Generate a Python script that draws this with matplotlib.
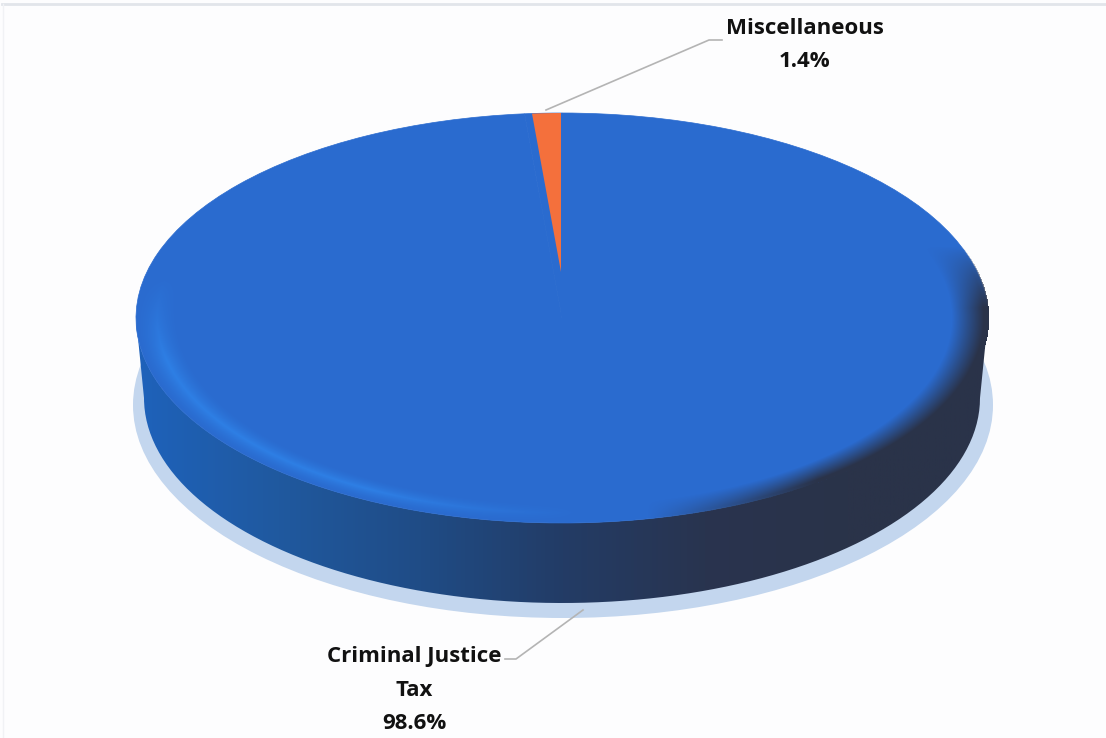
import numpy as np
import matplotlib
matplotlib.use("Agg")
import matplotlib.pyplot as plt
from matplotlib.colors import LinearSegmentedColormap, to_rgb
from matplotlib.patches import Ellipse, PathPatch
from matplotlib.path import Path

# data
names = ["Miscellaneous", "Criminal Justice\nTax"]
shares = [1.4, 98.6]
colors = ["#f4703c", "#2a6bcf"]

W, H = 1106, 738
plt.rcParams["font.family"] = ["Open Sans", "DejaVu Sans"]

fig = plt.figure(figsize=(W / 100, H / 100), dpi=100, facecolor="#fdfdfe")


def pixel_axes(zorder):
    """axes over the whole figure, coordinates are image pixels"""
    a = fig.add_axes([0, 0, 1, 1], zorder=zorder)
    a.set_xlim(0, W)
    a.set_ylim(H, 0)
    a.axis("off")
    return a


def pie_axes(cx, cy, rx, ry, zorder):
    """axes where the unit pie lands on an ellipse in pixels"""
    a = fig.add_axes([(cx - rx) / W, 1 - (cy + ry) / H, 2 * rx / W, 2 * ry / H], zorder=zorder)
    return a


def finish_pie(a):
    a.set_aspect("auto")
    a.set_xlim(-1, 1)
    a.set_ylim(-1, 1)
    a.patch.set_alpha(0)


# ellipse of the top and the bottom, in pixels
top_c = (562, 318)
top_r = (426, 205)
low_c = (562, 398)
low_r = (418, 205)

back = pixel_axes(1)
back.plot([2, W], [4, 4], color="#e2e5ea", lw=2)
back.plot([3, 3], [4, H], color="#f1f2f5", lw=1)

# shadow under the pie
back.add_patch(Ellipse((563, 405), 860, 426, fc="#c3d6ee", ec="none"))

# side of the pie, gradient from left to right
t = np.linspace(np.pi, 0, 200)
upper = np.column_stack([top_c[0] + top_r[0] * np.cos(t), top_c[1] + top_r[1] * np.sin(t)])
lower = np.column_stack([low_c[0] + low_r[0] * np.cos(t), low_c[1] + low_r[1] * np.sin(t)])
side_path = Path(np.vstack([upper, lower[::-1], upper[:1]]))
side_patch = PathPatch(side_path, fc="none", ec="none")
back.add_patch(side_patch)
side_cmap = LinearSegmentedColormap.from_list(
    "side", ["#1e62bb", "#20599f", "#1f4c86", "#233c66", "#29344f", "#2a3349", "#2a3349"], N=1024
)
grad = np.linspace(0, 1, 1024).reshape(1, -1)
side_img = back.imshow(grad, cmap=side_cmap, extent=(136, 990, 610, 310), aspect="auto", zorder=2)
side_img.set_clip_path(side_patch)
back.set_xlim(0, W)
back.set_ylim(H, 0)

# top of the pie, all one colour here, the small slice goes on top later
ax = pie_axes(top_c[0], top_c[1], top_r[0], top_r[1], 2)
ax.pie(shares, colors=[colors[1], colors[1]], startangle=90, radius=1,
       wedgeprops={"edgecolor": colors[1], "linewidth": 0.5})
finish_pie(ax)

# bevel on the rim, light on the left and dark on the right
bevel_ax = pixel_axes(3)
xx, yy = np.meshgrid(np.arange(W) + 0.5, np.arange(H) + 0.5)
u = (xx - top_c[0]) / top_r[0]
v = (yy - top_c[1]) / top_r[1]
rho = np.sqrt(u ** 2 + v ** 2)
band = np.clip(1 - np.abs(rho - 0.95) / 0.05, 0, 1) ** 1.5
light = band * np.clip((0.05 - u) / 0.5, 0, 1) * np.clip((v + 0.2) / 0.4, 0, 1)
dark = np.clip((rho - 0.915) / 0.075, 0, 1) * np.clip((u - 0.2) / 0.4, 0, 1) * np.clip((v + 0.35) / 0.3, 0, 1)
rgba = np.zeros((H, W, 4))
light_c = np.array(to_rgb("#2f84ea"))
dark_c = np.array(to_rgb("#2a3349"))
mix = dark / np.maximum(dark + light, 1e-6)
rgba[..., :3] = light_c * (1 - mix[..., None]) + dark_c * mix[..., None]
# a bit past the rim, so the edge line of the pie gets covered too
rgba[..., 3] = np.clip(light * 0.8 + dark, 0, 1) * (rho <= 1.003)
bevel_ax.imshow(rgba, extent=(0, W, H, 0), aspect="auto")
bevel_ax.set_xlim(0, W)
bevel_ax.set_ylim(H, 0)

# small slice, its point sits above the middle of the top
ax2 = pie_axes(561, 272, 330, 159, 4)
small, _ = ax2.pie(shares, colors=colors, startangle=90, radius=1)
small[1].set_visible(False)
finish_pie(ax2)

# leader lines and labels
front = pixel_axes(5)
front.plot([546, 709, 722], [110, 40, 40], color="#b4b4b4", lw=1.2)
front.plot([583, 516, 505], [610, 659, 659], color="#b4b4b4", lw=1.2)
front.text(805, 45, f"{names[0]}\n{shares[0]}%", ha="center", va="center",
           fontsize=16, fontweight="bold", color="#111111", linespacing=1.76)
front.text(414, 690, f"{names[1]}\n{shares[1]}%", ha="center", va="center",
           fontsize=16, fontweight="bold", color="#111111", linespacing=1.76)

fig.savefig("out.png", dpi=100, facecolor=fig.get_facecolor())
